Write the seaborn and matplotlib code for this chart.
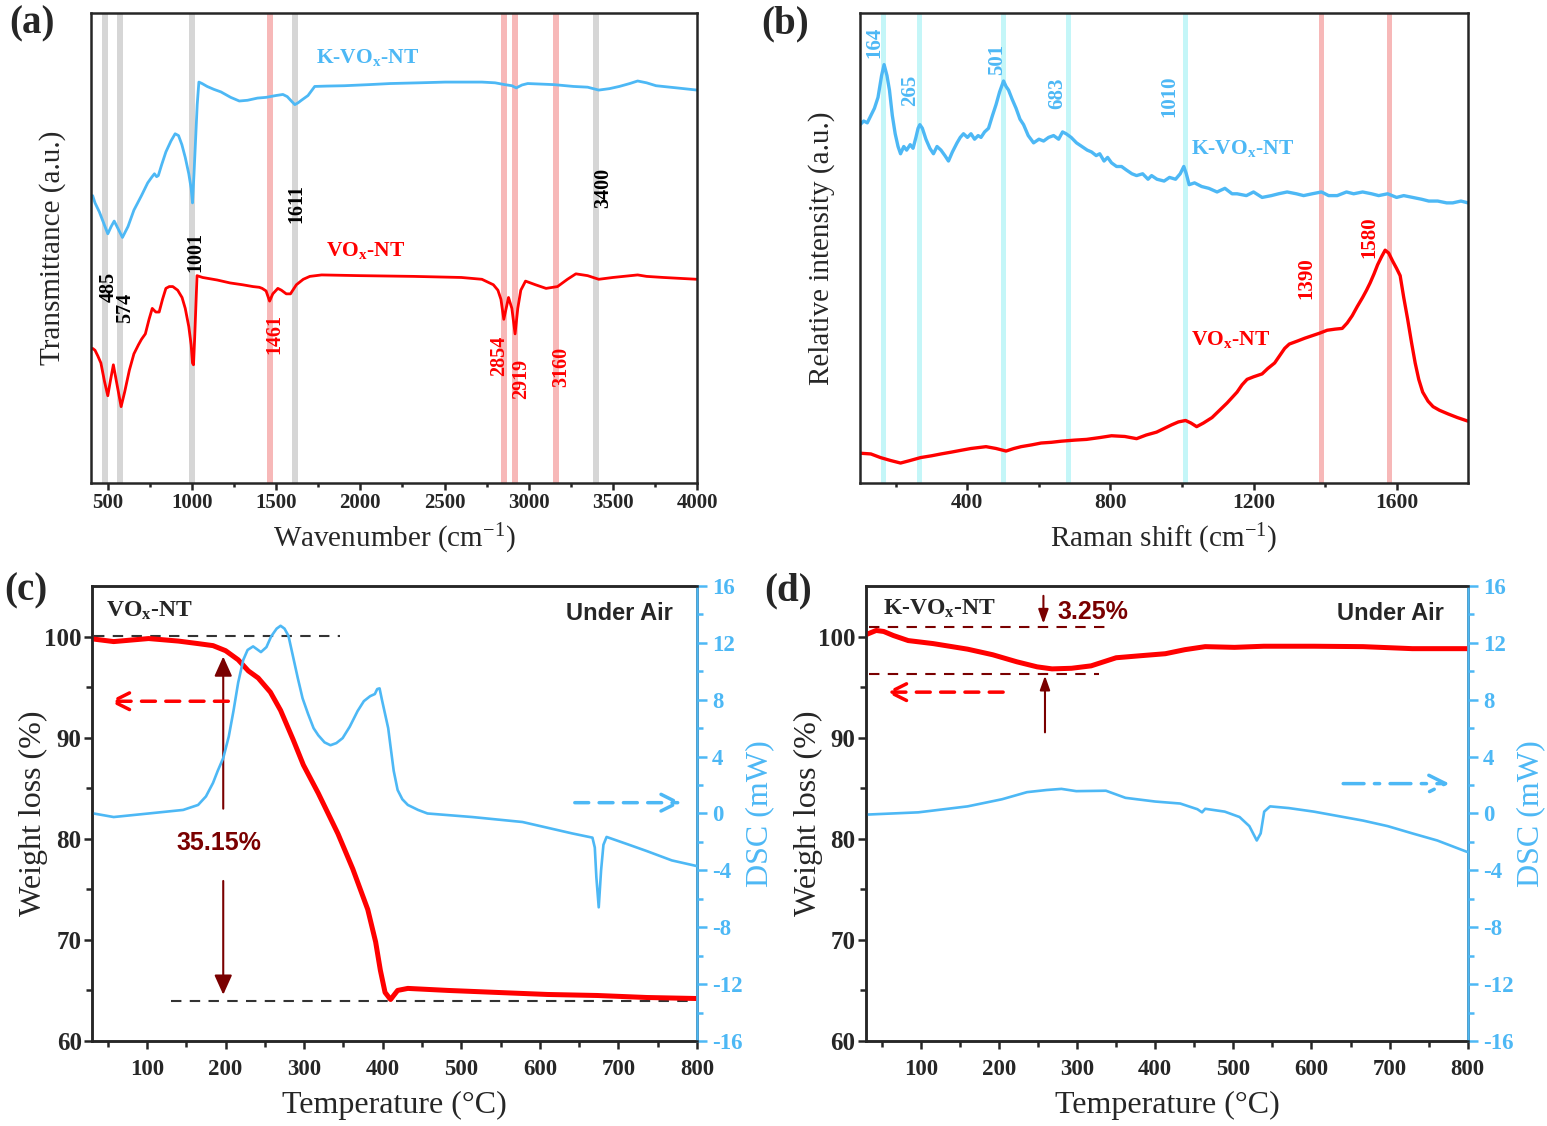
import numpy as np
import pandas as pd
import matplotlib
matplotlib.use("Agg")
import matplotlib.pyplot as plt
import seaborn as sns

# ---------------- (a) FTIR data ----------------
ftir_k_wn = [410, 424, 450, 475, 500, 520, 538, 560, 587, 620, 655, 700, 737, 760, 777, 790,
             800, 820, 845, 875, 900, 920, 940, 960, 981, 995, 1003, 1012, 1022, 1031, 1041,
             1060, 1090, 1130, 1172, 1230, 1281, 1330, 1389, 1440, 1498, 1540, 1566, 1590,
             1611, 1630, 1650, 1689, 1729, 1800, 1906, 2050, 2178, 2350, 2504, 2650, 2722,
             2800, 2858, 2900, 2926, 2960, 2994, 3150, 3266, 3350, 3416, 3480, 3538, 3600,
             3647, 3700, 3756, 3880, 4000]
ftir_k_val = [790, 770, 745, 715, 685, 705, 720, 700, 675, 705, 750, 790, 825, 840, 850, 842,
              845, 875, 910, 940, 960, 955, 930, 895, 850, 810, 770, 850, 950, 1040, 1102,
              1098, 1090, 1082, 1075, 1060, 1050, 1052, 1058, 1060, 1065, 1068, 1062, 1050,
              1040, 1045, 1052, 1065, 1090, 1091, 1092, 1095, 1098, 1100, 1102, 1102, 1102,
              1100, 1095, 1092, 1086, 1094, 1098, 1095, 1090, 1088, 1080, 1084, 1090, 1098,
              1105, 1100, 1092, 1086, 1080]
ftir_v_wn = [410, 424, 440, 459, 480, 500, 515, 533, 555, 579, 600, 628, 655, 682, 700, 723,
             745, 764, 785, 805, 825, 845, 865, 886, 915, 941, 960, 981, 995, 1003, 1009,
             1016, 1030, 1063, 1150, 1226, 1300, 1362, 1400, 1417, 1440, 1461, 1480, 1510,
             1531, 1560, 1585, 1620, 1661, 1700, 1770, 2000, 2314, 2600, 2722, 2790, 2817,
             2835, 2852, 2866, 2880, 2900, 2919, 2935, 2953, 2981, 3040, 3103, 3171, 3230,
             3280, 3350, 3416, 3500, 3647, 3700, 3800, 4000]
ftir_v_val = [370, 365, 350, 330, 280, 240, 280, 325, 270, 210, 250, 310, 355, 380, 395, 410,
              450, 480, 470, 470, 505, 535, 540, 540, 530, 510, 480, 430, 380, 330, 325,
              400, 570, 565, 558, 550, 545, 540, 538, 535, 528, 500, 520, 535,
              530, 520, 520, 545, 560, 568, 572, 570, 568, 565, 560, 545, 530,
              505, 450, 480, 510, 480, 410, 480, 530, 555, 545, 535, 540, 560,
              575, 570, 560, 565, 572, 568, 565, 560]
ftir_gray_bands = [485, 574, 1001, 1611, 3400]
ftir_red_bands = [1461, 2854, 2919, 3160]

# ---------------- (b) Raman data ----------------
raman_k_x = [100, 110, 120, 130, 140, 150, 160, 167, 175, 182, 190, 198, 206, 213, 222, 230,
             240, 248, 256, 262, 267, 274, 284, 295, 305, 315, 326, 337, 347, 358, 371, 380,
             389, 400, 410, 420, 430, 438, 448, 459, 470, 480, 490, 501, 508, 515, 525, 536,
             547, 557, 570, 585, 600, 613, 627, 641, 655, 666, 676, 690, 705, 720, 735, 747,
             760, 770, 782, 792, 803, 817, 831, 845, 860, 873, 890, 905, 915, 930, 950, 965,
             982, 995, 1005, 1012, 1020, 1035, 1055, 1075, 1098, 1120, 1140, 1154, 1180,
             1200, 1224, 1250, 1270, 1294, 1320, 1340, 1364, 1390, 1410, 1434, 1460, 1480,
             1505, 1530, 1550, 1575, 1600, 1620, 1645, 1670, 1690, 1715, 1740, 1757, 1780,
             1800]
raman_k_y = [985, 995, 990, 1010, 1030, 1060, 1120, 1150, 1120, 1080, 1010, 960, 925, 905,
             925, 915, 930, 920, 950, 975, 985, 975, 945, 920, 905, 925, 915, 900, 885, 910,
             935, 950, 960, 950, 960, 945, 955, 950, 965, 975, 1010, 1040, 1075, 1105, 1090,
             1080, 1055, 1030, 1000, 985, 955, 935, 945, 940, 950, 955, 945, 965, 960, 950,
             935, 925, 915, 910, 900, 905, 885, 895, 880, 870, 870, 860, 850, 845, 850, 835,
             845, 835, 830, 840, 835, 850, 870, 850, 820, 825, 815, 810, 800, 810, 795, 795,
             790, 800, 785, 790, 795, 800, 795, 790, 795, 800, 790, 790, 800, 795, 800, 795,
             790, 795, 785, 790, 785, 780, 775, 775, 770, 770, 775, 770]
raman_v_x = [100, 130, 157, 185, 213, 240, 269, 300, 326, 355, 382, 410, 452, 480, 508, 530,
             550, 580, 606, 635, 662, 700, 733, 770, 803, 840, 873, 900, 929, 950, 971, 990,
             1010, 1025, 1041, 1060, 1084, 1105, 1126, 1140, 1154, 1168, 1182, 1200, 1224,
             1240, 1259, 1273, 1287, 1300, 1322, 1343, 1364, 1385, 1406, 1428, 1448, 1462,
             1476, 1490, 1505, 1516, 1526, 1537, 1547, 1558, 1568, 1578, 1589, 1600, 1610,
             1620, 1631, 1642, 1652, 1662, 1673, 1688, 1702, 1720, 1744, 1770, 1800]
raman_v_y = [82, 80, 70, 62, 55, 62, 70, 75, 80, 85, 90, 95, 100, 95, 88, 95,
             100, 105, 110, 112, 115, 118, 120, 125, 130, 128, 122, 132, 140, 150, 160, 168,
             172, 165, 155, 165, 180, 200, 220, 235, 250, 270, 285, 292, 300,
             315, 330, 350, 370, 382, 390, 398, 405, 412, 420, 423, 425, 440,
             460, 485, 510, 530, 550, 575, 600, 622, 640, 632, 610, 590, 570,
             510, 450, 385, 330, 285, 250, 225, 210, 200, 190, 180, 170]
raman_cyan_bands = [164, 265, 501, 683, 1010]
raman_red_bands = [1390, 1580]

# ---------------- (c) TGA/DSC VOx-NT ----------------
c_tga_T = [32, 57.5, 102, 140, 165, 184, 200, 216, 229, 241.5, 257, 270, 286, 299, 318, 343,
           362, 381, 391, 397, 403, 410, 419, 432, 483, 546, 610, 673, 736.5, 800]
c_tga_W = [99.75, 99.5, 99.8, 99.55, 99.3, 99.1, 98.6, 97.7, 96.6, 95.9, 94.5, 92.7, 89.8,
           87.3, 84.5, 80.5, 77.0, 73.0, 69.8, 67.0, 64.8, 64.1, 65.0, 65.2, 65.0, 64.8,
           64.6, 64.5, 64.3, 64.2]
c_dsc_T = [32, 57.5, 102, 146, 165, 175, 184, 190, 197, 204, 210, 216, 222.5, 228, 235, 245,
           252, 258, 265, 270, 275, 280, 286, 292, 298, 305, 312, 318, 326, 333.5, 341, 349,
           358, 368, 376, 384, 390, 393, 396, 399, 403, 407, 410, 414, 419, 425, 432, 445,
           457, 514, 578, 641, 667, 670, 672, 675, 678, 681, 685, 711, 736.5, 768, 800]
c_dsc_mW = [0.0, -0.25, 0.0, 0.25, 0.6, 1.2, 2.15, 3.0, 3.9, 5.4, 7.2, 9.2, 10.8, 11.5, 11.75,
            11.35, 11.7, 12.45, 13.0, 13.2, 13.0, 12.5, 11.0, 9.5, 8.1, 7.0, 6.0, 5.5, 5.0,
            4.8, 4.95, 5.3, 6.1, 7.2, 7.9, 8.25, 8.4, 8.75, 8.8, 8.0, 7.0, 6.0, 4.7, 3.0,
            1.65, 1.0, 0.6, 0.25, 0.0, -0.25, -0.6, -1.4, -1.7, -2.4, -4.5, -6.6, -4.0,
            -2.2, -1.65, -2.15, -2.65, -3.3, -3.7]

# ---------------- (d) TGA/DSC K-VOx-NT ----------------
d_tga_T = [30.4, 43, 52.6, 65, 84, 116, 160, 192, 223, 249, 268, 293, 318, 350, 381, 413,
           438, 464, 501.5, 539, 603, 666, 729, 799]
d_tga_W = [100.2, 100.6, 100.5, 100.1, 99.6, 99.3, 98.75, 98.2, 97.5, 97.0, 96.8, 96.86,
           97.1, 97.9, 98.1, 98.3, 98.7, 99.0, 98.93, 99.04, 99.04, 99.0, 98.8, 98.8]
d_dsc_T = [30.4, 97, 160, 204, 236, 261, 280, 299, 337, 362, 400, 432, 454, 460, 464, 489,
           508, 520.5, 530, 535, 539.5, 547, 571, 603, 634, 666, 697.5, 729, 761, 799]
d_dsc_mW = [-0.08, 0.08, 0.5, 1.0, 1.5, 1.65, 1.73, 1.57, 1.6, 1.1, 0.84, 0.7, 0.3, 0.08,
            0.33, 0.13, -0.25, -0.89, -1.9, -1.4, 0.13, 0.5, 0.38, 0.13, -0.18, -0.5,
            -0.89, -1.4, -1.9, -2.7]

# ---------------- style ----------------
sns.set_theme(style="ticks")
plt.rcParams["font.family"] = ["Liberation Serif", "DejaVu Serif"]
plt.rcParams["mathtext.fontset"] = "custom"
plt.rcParams["mathtext.rm"] = "Liberation Serif"
plt.rcParams["mathtext.it"] = "Liberation Serif:italic"
plt.rcParams["mathtext.bf"] = "Liberation Serif:bold"
plt.rcParams["axes.linewidth"] = 1.8
plt.rcParams["axes.unicode_minus"] = False
plt.rcParams["xtick.direction"] = "out"
plt.rcParams["ytick.direction"] = "out"

RED = "#FF0000"
BLUE = "#4DB8F5"
DARK = "#7A0000"
GRAY_BAND = "#D6D6D6"
PINK_BAND = "#F7B8B8"
CYAN_BAND = "#C4F6F8"
SANS = ["Liberation Sans", "DejaVu Sans"]

fig = plt.figure(figsize=(15.47, 11.26), dpi=100)
axA = fig.add_axes([0.0588, 0.571, 0.3918, 0.4175])
axB = fig.add_axes([0.556, 0.571, 0.393, 0.4175])
axC = fig.add_axes([0.0595, 0.0755, 0.391, 0.4041])
axD = fig.add_axes([0.5598, 0.0755, 0.389, 0.4041])


def style_ticks(ax, size, width=1.8):
    ax.tick_params(axis="both", which="major", length=5, width=width, labelsize=size, pad=2.5)
    ax.tick_params(axis="both", which="minor", length=3, width=width)
    for lab in ax.get_xticklabels() + ax.get_yticklabels():
        lab.set_fontweight("bold")


# ---------------- panel (a) ----------------
for w in ftir_gray_bands:
    axA.axvspan(w - 18, w + 18, color=GRAY_BAND, lw=0, zorder=0)
for w in ftir_red_bands:
    axA.axvspan(w - 18, w + 18, color=PINK_BAND, lw=0, zorder=0)
sns.lineplot(x=ftir_k_wn, y=ftir_k_val, ax=axA, color=BLUE, lw=2.0)
sns.lineplot(x=ftir_v_wn, y=ftir_v_val, ax=axA, color=RED, lw=2.0)
axA.set_xlim(400, 4000)
axA.set_ylim(0, 1292)
axA.set_yticks([])
axA.set_xticks([500, 1000, 1500, 2000, 2500, 3000, 3500, 4000])
axA.set_xticks(np.arange(500, 4000, 250), minor=True)
style_ticks(axA, 15)
axA.set_xlabel("Wavenumber (cm$^{-1}$)", fontsize=21, labelpad=6)
axA.set_ylabel("Transmittance (a.u.)", fontsize=21, labelpad=18)
for txt, x, y, c in [("485", 505, 540, "black"), ("574", 600, 482, "black"),
                     ("1001", 1022, 635, "black"), ("1611", 1620, 768, "black"),
                     ("3400", 3443, 810, "black"), ("1461", 1490, 410, RED),
                     ("2854", 2823, 350, RED), ("2919", 2953, 287, RED),
                     ("3160", 3190, 320, RED)]:
    axA.text(x, y, txt, rotation=90, ha="center", va="center", fontsize=14.5,
             fontweight="bold", color=c)
axA.text(2040, 1170, r"K-VO$_{\mathbf{x}}$-NT", color=BLUE, fontsize=15.5, fontweight="bold",
         ha="center", va="center")
axA.text(2030, 640, r"VO$_{\mathbf{x}}$-NT", color=RED, fontsize=15.5, fontweight="bold",
         ha="center", va="center")

# ---------------- panel (b) ----------------
for w in raman_cyan_bands:
    axB.axvspan(w - 7, w + 7, color=CYAN_BAND, lw=0, zorder=0)
for w in raman_red_bands:
    axB.axvspan(w - 7, w + 7, color=PINK_BAND, lw=0, zorder=0)
sns.lineplot(x=raman_k_x, y=raman_k_y, ax=axB, color=BLUE, lw=2.4)
sns.lineplot(x=raman_v_x, y=raman_v_y, ax=axB, color=RED, lw=2.4)
axB.set_xlim(100, 1800)
axB.set_ylim(0, 1292)
axB.set_yticks([])
axB.set_xticks([400, 800, 1200, 1600])
axB.set_xticks(np.arange(200, 1800, 200), minor=True)
style_ticks(axB, 15.5)
axB.set_xlabel("Raman shift (cm$^{-1}$)", fontsize=21, labelpad=6)
axB.set_ylabel("Relative intensity (a.u.)", fontsize=21, labelpad=18)
for txt, x, y, c in [("164", 140, 1212, BLUE), ("265", 241, 1078, BLUE),
                     ("501", 483, 1163, BLUE), ("683", 651, 1072, BLUE),
                     ("1010", 964, 1062, BLUE), ("1390", 1347, 562, RED),
                     ("1580", 1523, 675, RED)]:
    axB.text(x, y, txt, rotation=90, ha="center", va="center", fontsize=15,
             fontweight="bold", color=c)
axB.text(1170, 920, r"K-VO$_{\mathbf{x}}$-NT", color=BLUE, fontsize=15.5, fontweight="bold",
         ha="center", va="center")
axB.text(1137, 395, r"VO$_{\mathbf{x}}$-NT", color=RED, fontsize=15.5, fontweight="bold",
         ha="center", va="center")


# ---------------- panels (c), (d) ----------------
def tga_panel(ax, tT, tW, dT, dmW):
    sns.lineplot(x=tT, y=tW, ax=ax, color=RED, lw=3.6, zorder=3)
    ax.set_xlim(30, 800)
    ax.set_ylim(60, 105)
    ax.set_xticks(np.arange(100, 801, 100))
    ax.set_xticks(np.arange(50, 800, 50), minor=True)
    ax.set_yticks([60, 70, 80, 90, 100])
    ax.set_yticks(np.arange(65, 105, 5), minor=True)
    style_ticks(ax, 17)
    ax.tick_params(axis="x", which="major", length=6, pad=7, labelsize=16.5)
    ax.tick_params(axis="x", which="minor", length=4)
    ax.tick_params(axis="y", which="major", length=6, pad=1.5, labelsize=18)
    ax.tick_params(axis="y", which="minor", length=4)
    ax.set_xlabel("Temperature (°C)", fontsize=23, labelpad=8)
    ax.set_ylabel("Weight loss (%)", fontsize=23)
    ax.yaxis.set_label_coords(-0.072, 0.5)
    ax2 = ax.twinx()
    sns.lineplot(x=dT, y=dmW, ax=ax2, color=BLUE, lw=1.9)
    ax2.set_ylim(-16, 16)
    ax2.set_yticks(np.arange(-16, 17, 4))
    ax2.set_yticks(np.arange(-14, 16, 4), minor=True)
    ax2.tick_params(axis="y", which="major", length=7, width=1.8, labelsize=16.5,
                    colors=BLUE, pad=4)
    ax2.tick_params(axis="y", which="minor", length=4, width=1.8, colors=BLUE)
    for lab in ax2.get_yticklabels():
        lab.set_fontweight("bold")
    ax2.spines["right"].set_color(BLUE)
    ax2.set_ylabel("DSC (mW)", fontsize=23, color=BLUE, labelpad=2)
    ax.text(770, 102.3, "Under Air", family=SANS, fontsize=17, fontweight="bold",
            ha="right", va="center")
    return ax2


axC2 = tga_panel(axC, c_tga_T, c_tga_W, c_dsc_T, c_dsc_mW)
axC.text(48, 102.55, r"VO$_{\mathbf{x}}$-NT", fontsize=17, fontweight="bold",
         ha="left", va="center")
axC.plot([32, 346], [100.07, 100.07], ls=(0, (5, 4)), color="#333333", lw=1.5)
axC.plot([130, 797], [64.0, 64.0], ls=(0, (5, 4)), color="#333333", lw=1.5)
axC.annotate("", xy=(197, 98.3), xytext=(197, 82.7),
             arrowprops=dict(arrowstyle="-|>,head_length=1.0,head_width=0.45",
                             color=DARK, lw=1.5))
axC.annotate("", xy=(197, 64.3), xytext=(197, 76.1),
             arrowprops=dict(arrowstyle="-|>,head_length=1.0,head_width=0.45",
                             color=DARK, lw=1.5))
axC.text(192, 79.6, "35.15%", family=SANS, fontsize=18, fontweight="bold", color=DARK,
         ha="center", va="center")
axC.annotate("", xy=(48, 93.6), xytext=(207, 93.6),
             arrowprops=dict(arrowstyle="->,head_length=1.0,head_width=0.5", color=RED,
                             lw=2.5, ls=(0, (4, 3))))
axC2.annotate("", xy=(784, 0.76), xytext=(641, 0.76),
              arrowprops=dict(arrowstyle="->,head_length=1.0,head_width=0.5", color=BLUE,
                              lw=2.5, ls=(0, (4, 3))))

axD2 = tga_panel(axD, d_tga_T, d_tga_W, d_dsc_T, d_dsc_mW)
axD.text(52, 102.7, r"K-VO$_{\mathbf{x}}$-NT", fontsize=17, fontweight="bold",
         ha="left", va="center")
axD.text(275, 102.4, "3.25%", family=SANS, fontsize=18, fontweight="bold", color=DARK,
         ha="left", va="center")
axD.plot([34, 343], [100.9, 100.9], ls=(0, (5, 4)), color=DARK, lw=1.5)
axD.plot([34, 328], [96.25, 96.25], ls=(0, (5, 4)), color=DARK, lw=1.5)
axD.annotate("", xy=(257, 101.0), xytext=(257, 104.3),
             arrowprops=dict(arrowstyle="-|>,head_length=0.7,head_width=0.25",
                             color=DARK, lw=1.5))
axD.annotate("", xy=(259, 96.4), xytext=(259, 90.25),
             arrowprops=dict(arrowstyle="-|>,head_length=0.7,head_width=0.25",
                             color=DARK, lw=1.5))
axD.annotate("", xy=(52, 94.5), xytext=(209, 94.5),
             arrowprops=dict(arrowstyle="->,head_length=1.0,head_width=0.5", color=RED,
                             lw=2.5, ls=(0, (4, 3))))
axD2.annotate("", xy=(780, 2.1), xytext=(637, 2.1),
              arrowprops=dict(arrowstyle="->,head_length=1.0,head_width=0.5", color=BLUE,
                              lw=2.5, ls=(0, (6, 3, 1.5, 3))))

# panel letters
for lab, x, y in [("(a)", 0.006, 0.995), ("(b)", 0.492, 0.995),
                  ("(c)", 0.003, 0.492), ("(d)", 0.494, 0.492)]:
    fig.text(x, y, lab, fontsize=28, fontweight="bold", ha="left", va="top")

fig.savefig("out.png", dpi=100, facecolor="white")
